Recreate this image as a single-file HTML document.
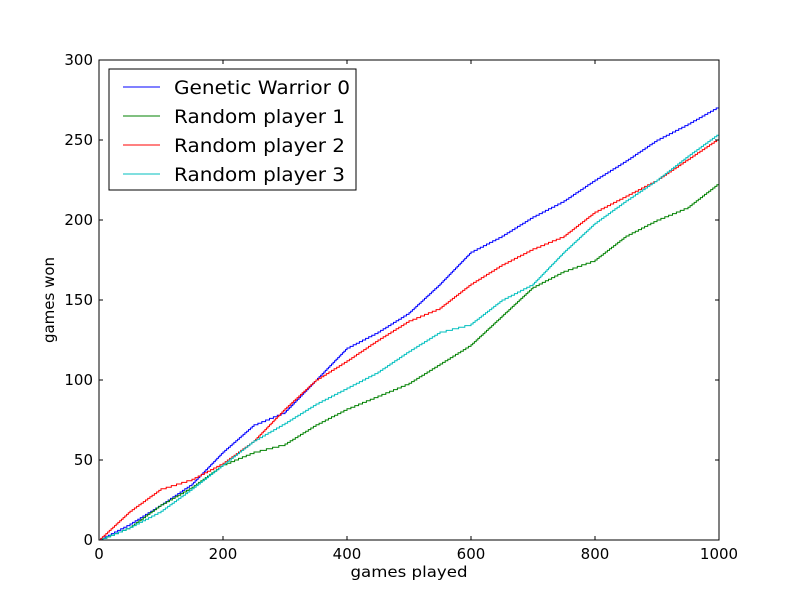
<!DOCTYPE html>
<html><head><meta charset="utf-8"><style>
body{margin:0;background:#fff;}
svg text{font-family:"DejaVu Sans","Liberation Sans",sans-serif;}
</style></head><body>
<svg id="chart" width="800" height="600" xmlns="http://www.w3.org/2000/svg">
<rect width="800" height="600" fill="#fff"/>
<g id="plot"></g>
</svg>
<script>
const xs=[0,50,100,150,200,250,300,350,400,450,500,550,600,650,700,750,800,850,900,950,1000];
const warrior0=[0,10,22,35,55,72,80,100,120,130,142,160,180,190,202,212,225,237,250,260,271];
const random1=[0,8,22,33,47,55,60,72,82,90,98,110,122,140,158,168,175,190,200,208,223];
const random2=[0,18,32,38,48,62,82,100,112,125,137,145,160,172,182,190,205,215,225,238,251];
const random3=[0,8,18,32,47,62,73,85,95,105,118,130,135,150,160,180,198,212,225,240,254];
const seriesNames=["Genetic Warrior 0","Random player 1","Random player 2","Random player 3"];
const xTicks=[0,200,400,600,800,1000];
const yTicks=[0,50,100,150,200,250,300];

const L=99,R=719,T=60,B=540;
const sx=v=>L+(v/1000)*(R-L);
const sy=v=>B-(v/300)*(B-T);
const NS="http://www.w3.org/2000/svg";
const g=document.getElementById('plot');
function mk(tag,attrs,parent){const e=document.createElementNS(NS,tag);for(const k in attrs)e.setAttribute(k,attrs[k]);(parent||g).appendChild(e);return e;}

const series=[[warrior0,"#0000ff","warrior-0"],[random1,"#008000","random-1"],[random2,"#ff0000","random-2"],[random3,"#00bfbf","random-3"]];
series.forEach(([vals,col,nm])=>{
  let d="";
  for(let i=0;i<xs.length;i++){
    if(i===0){d+="M"+sx(xs[0])+","+sy(vals[0]);continue;}
    const x0=xs[i-1],x1=xs[i],v0=vals[i-1],v1=vals[i];
    const steps=Math.max(1,Math.round(v1-v0));
    for(let s=1;s<=steps;s++){
      const xx=x0+(x1-x0)*s/steps;
      const vv=v0+(v1-v0)*s/steps;
      d+=" H"+sx(xx).toFixed(1)+" V"+sy(vv).toFixed(1);
    }
  }
  const p=mk('path',{d:d,fill:'none',stroke:col,'stroke-width':1});
  
  
});

const frame=mk('rect',{x:L,y:T,width:R-L,height:B-T,fill:'none',stroke:'#000','stroke-width':1});



xTicks.forEach(v=>{
  const x=sx(v);
  mk('line',{x1:x,x2:x,y1:B,y2:B-4,stroke:'#000'});
  mk('line',{x1:x,x2:x,y1:T,y2:T+4,stroke:'#000'});
  const t=mk('text',{x:x,y:B+19,'text-anchor':'middle','font-size':15});
  t.textContent=v;
  
  
});
yTicks.forEach(v=>{
  const y=sy(v);
  mk('line',{x1:L,x2:L+4,y1:y,y2:y,stroke:'#000'});
  mk('line',{x1:R,x2:R-4,y1:y,y2:y,stroke:'#000'});
  const t=mk('text',{x:L-6,y:y+5,'text-anchor':'end','font-size':15});
  t.textContent=v;
  
  
});
const xt=mk('text',{x:(L+R)/2,y:577,'text-anchor':'middle','font-size':15,textLength:117,lengthAdjust:'spacingAndGlyphs'});
xt.textContent="games played";


const yt=mk('text',{x:54,y:(T+B)/2,'text-anchor':'middle','font-size':15,transform:'rotate(-90 54 '+((T+B)/2)+')'});
yt.textContent="games won";



const lg=mk('g',{});


mk('rect',{x:109,y:69,width:247,height:121,fill:'#fff',stroke:'#000'},lg);
const widths=[176,171,171,171];
series.forEach(([vals,col,nm],i)=>{
  const y=87+i*29;
  const e=mk('g',{},lg);
  
  
  mk('line',{x1:123,x2:160,y1:y,y2:y,stroke:col},e);
  const t=mk('text',{x:174,y:y+7,'font-size':19,textLength:widths[i],lengthAdjust:'spacingAndGlyphs'},e);
  t.textContent=seriesNames[i];
});
</script>
</body></html>
